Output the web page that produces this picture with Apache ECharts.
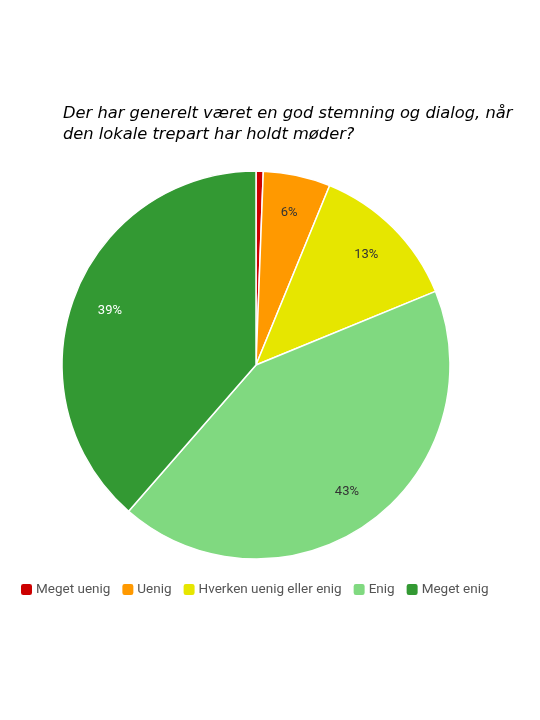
<!DOCTYPE html>
<html>
<head>
<meta charset="utf-8">
<script src="https://cdn.jsdelivr.net/npm/echarts@6/dist/echarts.min.js"></script>
<style>
  html, body { margin: 0; padding: 0; background: #fff; }
  #chart { width: 540px; height: 720px; }
</style>
</head>
<body>
<div id="chart"></div>
<script>
// svar-kategorier og andele
const categories = ['Meget uenig', 'Uenig', 'Hverken uenig eller enig', 'Enig', 'Meget enig']
const values = [0.6, 5.6, 12.6, 42.6, 38.6]
const colors = ['#cc0000', '#ff9900', '#e6e600', '#80d980', '#339933']
const labelColors = ['#333', '#333', '#333', '#333', '#fff']

const chart = echarts.init(document.getElementById('chart'))

const pieBase = {
  type: 'pie',
  center: [256, 365],
  startAngle: 90,
  clockwise: true,
  avoidLabelOverlap: false,
  labelLine: { show: false }
}

const option = {
  title: {
    text: 'Der har generelt været en god stemning og dialog, når\nden lokale trepart har holdt møder?',
    left: 58,
    top: 98,
    textStyle: {
      fontFamily: 'DejaVu Sans',
      fontStyle: 'italic',
      fontWeight: 'normal',
      fontSize: 16.3,
      lineHeight: 21,
      color: '#000'
    }
  },
  legend: {
    data: categories.map((name, i) => ({ name, itemStyle: { color: colors[i] } })),
    left: 14,
    top: 577,
    itemWidth: 13,
    itemHeight: 13,
    itemGap: 10,
    icon: 'roundRect',
    textStyle: {
      fontFamily: 'Roboto',
      fontSize: 13.5,
      color: '#555',
      padding: [0, 0, 0, -2]
    }
  },
  series: [
    // selve lagkagen
    {
      ...pieBase,
      radius: 194,
      itemStyle: { borderColor: '#fff', borderWidth: 1.5 },
      label: { show: false },
      data: categories.map((name, i) => ({
        name,
        value: values[i],
        itemStyle: { color: colors[i] }
      }))
    },
    // usynlig ring kun til procent-etiketter længere ude
    {
      ...pieBase,
      radius: [112, 194],
      silent: true,
      legendHoverLink: false,
      itemStyle: { color: 'rgba(0,0,0,0)' },
      label: {
        show: true,
        position: 'inside',
        fontFamily: 'Roboto',
        fontSize: 13,
        formatter: p => (p.percent < 3 ? '' : Math.round(p.percent) + '%')
      },
      data: categories.map((name, i) => ({
        name,
        value: values[i],
        label: { color: labelColors[i] }
      }))
    }
  ]
}
chart.setOption(option)
</script>
</body>
</html>
